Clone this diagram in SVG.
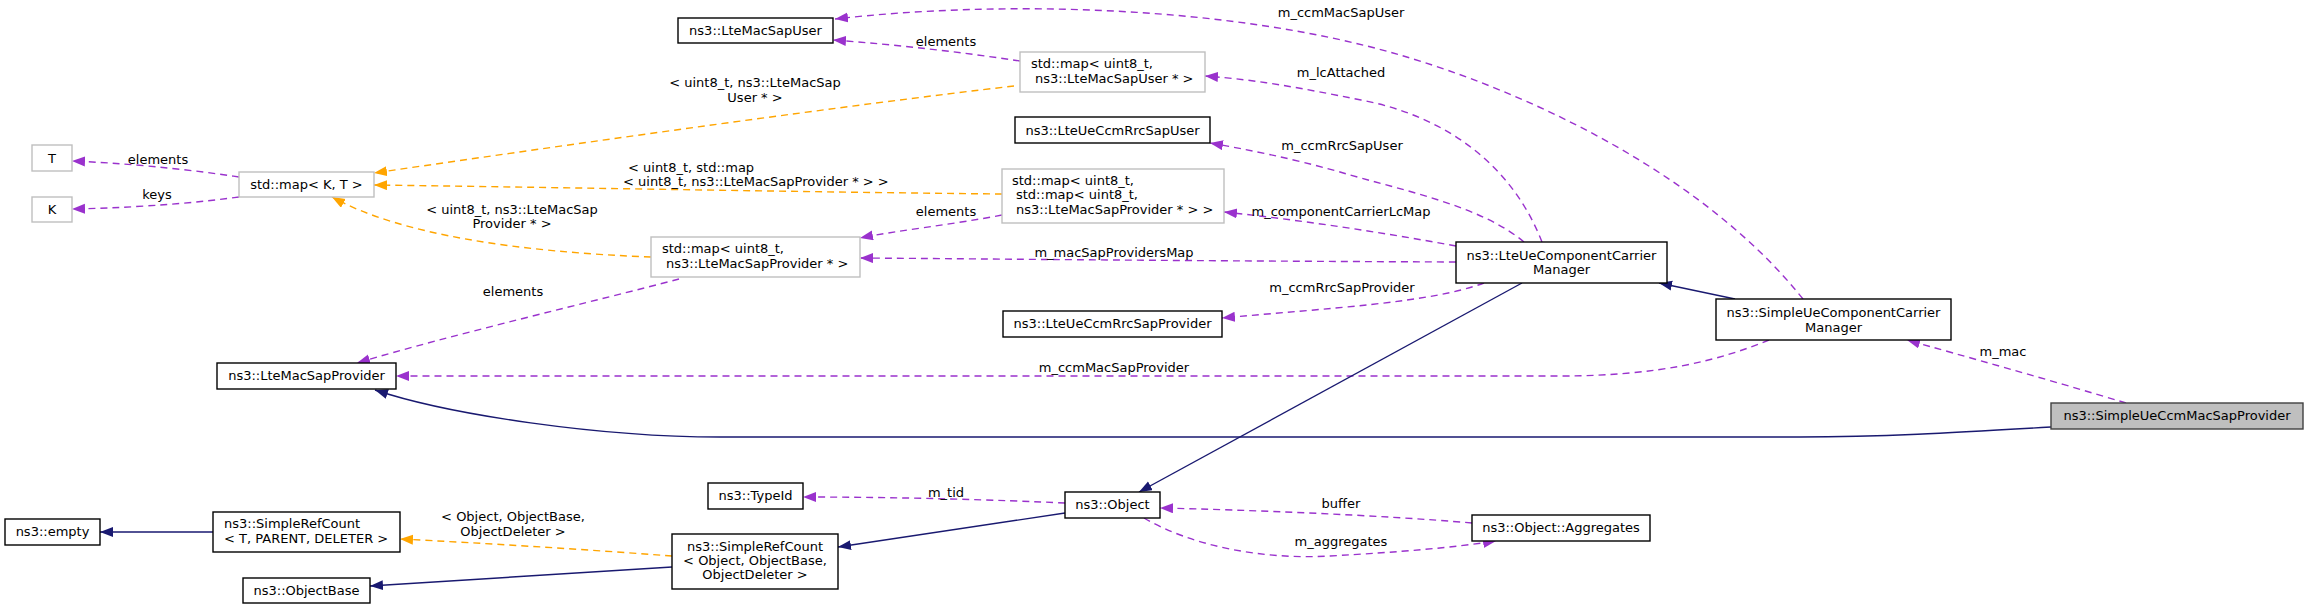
<svg xmlns="http://www.w3.org/2000/svg" width="2308" height="609" viewBox="0 0 2308 609">
<style>
text{font-family:"DejaVu Sans","Liberation Sans",sans-serif;font-size:13px;fill:#000}
.m{text-anchor:middle}
.n rect{fill:#fff;stroke:#000;stroke-width:1.4}
.u rect{fill:#fff;stroke:#bfbfbf;stroke-width:1.4}
.r rect{fill:#bfbfbf;stroke:#404040;stroke-width:1.4}
.p{fill:none;stroke:#9a32cd;stroke-width:1.4;stroke-dasharray:7,5;marker-end:url(#ap)}
.o{fill:none;stroke:#ffa500;stroke-width:1.4;stroke-dasharray:7,5;marker-end:url(#ao)}
.b{fill:none;stroke:#191970;stroke-width:1.4;marker-end:url(#ab)}
</style>
<defs>
<marker id="ap" markerUnits="userSpaceOnUse" markerWidth="14" markerHeight="11" refX="13" refY="5" orient="auto"><path d="M0,0 L13,5 L0,10 z" fill="#9a32cd"/></marker>
<marker id="ao" markerUnits="userSpaceOnUse" markerWidth="14" markerHeight="11" refX="13" refY="5" orient="auto"><path d="M0,0 L13,5 L0,10 z" fill="#ffa500"/></marker>
<marker id="ab" markerUnits="userSpaceOnUse" markerWidth="14" markerHeight="11" refX="13" refY="5" orient="auto"><path d="M0,0 L13,5 L0,10 z" fill="#191970"/></marker>
</defs>
<rect width="2308" height="609" fill="#fff"/>
<g id="edges">
<path class="p" d="M1020,61 C960,52 900,45 833,40"/>
<text class="m" x="946" y="46">elements</text>
<path class="p" d="M1803,299 C1700,170 1520,90 1400,55 C1230,5 1000,0 835,19"/>
<text class="m" x="1341" y="17">m_ccmMacSapUser</text>
<path class="p" d="M1542,242 C1510,160 1440,115 1361,100 C1300,88 1260,80 1205,76"/>
<text class="m" x="1341" y="77">m_lcAttached</text>
<path class="o" d="M1014,86 C850,105 600,140 374,173"/>
<text class="m" x="755" y="87">&lt; uint8_t, ns3::LteMacSap</text>
<text class="m" x="755" y="102">User * &gt;</text>
<path class="p" d="M1524,242 C1480,205 1400,190 1340,172 C1290,158 1250,150 1210,143"/>
<text class="m" x="1342" y="150">m_ccmRrcSapUser</text>
<path class="o" d="M1002,194 C800,192 600,188 374,185"/>
<text x="628" y="172">&lt; uint8_t, std::map</text>
<text x="623" y="186">&lt; uint8_t, ns3::LteMacSapProvider * &gt; &gt;</text>
<path class="p" d="M1456,246 C1380,232 1300,220 1224,212"/>
<text class="m" x="1341" y="216">m_componentCarrierLcMap</text>
<path class="p" d="M1002,215 C950,225 900,230 860,238"/>
<text class="m" x="946" y="216">elements</text>
<path class="p" d="M1456,262 C1200,261 1000,259 860,258"/>
<text class="m" x="1114" y="257">m_macSapProvidersMap</text>
<path class="p" d="M1484,283 C1430,303 1330,308 1222,318"/>
<text class="m" x="1342" y="292">m_ccmRrcSapProvider</text>
<path class="o" d="M651,257 C520,252 400,235 332,197"/>
<text class="m" x="512" y="214">&lt; uint8_t, ns3::LteMacSap</text>
<text class="m" x="512" y="228">Provider * &gt;</text>
<path class="p" d="M239,177 C180,168 120,163 72,161"/>
<text class="m" x="158" y="164">elements</text>
<path class="p" d="M239,197 C180,205 120,208 72,209"/>
<text class="m" x="157" y="199">keys</text>
<path class="p" d="M679,279 C600,300 450,335 357,363"/>
<text class="m" x="513" y="296">elements</text>
<path class="p" d="M1769,340 C1720,360 1660,376 1560,376 L396,376"/>
<text class="m" x="1114" y="372">m_ccmMacSapProvider</text>
<path class="p" d="M2126,403 C2050,380 1960,355 1907,340"/>
<text class="m" x="2003" y="356">m_mac</text>
<path class="b" d="M2051,427 C1950,433 1880,437 1800,437 L720,437 C600,437 450,415 375,390"/>
<path class="b" d="M1735,299 L1659,283"/>
<path class="b" d="M1522,283 L1139,492"/>
<path class="p" d="M1065,503 C1000,500 900,497 803,497"/>
<text class="m" x="946" y="497">m_tid</text>
<path class="p" d="M1472,523 C1380,515 1250,510 1160,508"/>
<text class="m" x="1341" y="508">buffer</text>
<path class="p" d="M1144,518 C1190,545 1260,560 1330,556 C1400,552 1450,548 1496,541"/>
<text class="m" x="1341" y="546">m_aggregates</text>
<path class="o" d="M672,556 C580,549 480,543 400,539"/>
<text class="m" x="513" y="521">&lt; Object, ObjectBase,</text>
<text class="m" x="513" y="536">ObjectDeleter &gt;</text>
<path class="b" d="M213,532 L100,532"/>
<path class="b" d="M672,567 L370,586"/>
<path class="b" d="M1065,513 L838,547"/>
</g>
<g id="n_LteMacSapUser" class="n"><rect x="678" y="18" width="155" height="25"/><text class="m" x="755.5" y="35">ns3::LteMacSapUser</text></g>
<g id="n_mapUser" class="u"><rect x="1020" y="52" width="185" height="40"/><text x="1031" y="68">std::map&lt; uint8_t,</text><text x="1035" y="83">ns3::LteMacSapUser * &gt;</text></g>
<g id="n_T" class="u"><rect x="32" y="145" width="40" height="26"/><text class="m" x="52" y="163">T</text></g>
<g id="n_K" class="u"><rect x="32" y="197" width="40" height="25"/><text class="m" x="52" y="214">K</text></g>
<g id="n_mapKT" class="u"><rect x="239" y="172" width="135" height="25"/><text class="m" x="306.5" y="189">std::map&lt; K, T &gt;</text></g>
<g id="n_LteUeCcmRrcSapUser" class="n"><rect x="1015" y="117" width="195" height="26"/><text class="m" x="1112.5" y="135">ns3::LteUeCcmRrcSapUser</text></g>
<g id="n_mapNested" class="u"><rect x="1002" y="169" width="222" height="54"/><text x="1012" y="185">std::map&lt; uint8_t,</text><text x="1016" y="199">std::map&lt; uint8_t,</text><text x="1016" y="214">ns3::LteMacSapProvider * &gt; &gt;</text></g>
<g id="n_mapProvider" class="u"><rect x="651" y="237" width="209" height="40"/><text x="662" y="253">std::map&lt; uint8_t,</text><text x="666" y="268">ns3::LteMacSapProvider * &gt;</text></g>
<g id="n_LteUeCCM" class="n"><rect x="1456" y="242" width="211" height="41"/><text class="m" x="1561.5" y="260">ns3::LteUeComponentCarrier</text><text class="m" x="1561.5" y="274">Manager</text></g>
<g id="n_SimpleUeCCM" class="n"><rect x="1716" y="299" width="235" height="41"/><text class="m" x="1833.5" y="317">ns3::SimpleUeComponentCarrier</text><text class="m" x="1833.5" y="332">Manager</text></g>
<g id="n_LteUeCcmRrcSapProvider" class="n"><rect x="1003" y="311" width="219" height="26"/><text class="m" x="1112.5" y="328">ns3::LteUeCcmRrcSapProvider</text></g>
<g id="n_LteMacSapProvider" class="n"><rect x="217" y="363" width="179" height="26"/><text class="m" x="306.5" y="380">ns3::LteMacSapProvider</text></g>
<g id="n_SimpleUeCcmMacSapProvider" class="r"><rect x="2051" y="403" width="252" height="26"/><text class="m" x="2177" y="420">ns3::SimpleUeCcmMacSapProvider</text></g>
<g id="n_TypeId" class="n"><rect x="708" y="483" width="95" height="26"/><text class="m" x="755.5" y="500">ns3::TypeId</text></g>
<g id="n_Object" class="n"><rect x="1065" y="492" width="95" height="26"/><text class="m" x="1112.5" y="509">ns3::Object</text></g>
<g id="n_Aggregates" class="n"><rect x="1472" y="515" width="178" height="26"/><text class="m" x="1561" y="532">ns3::Object::Aggregates</text></g>
<g id="n_empty" class="n"><rect x="5" y="519" width="95" height="26"/><text class="m" x="52.5" y="536">ns3::empty</text></g>
<g id="n_SimpleRefCountT" class="n"><rect x="213" y="512" width="187" height="40"/><text x="224" y="528">ns3::SimpleRefCount</text><text x="224" y="543">&lt; T, PARENT, DELETER &gt;</text></g>
<g id="n_ObjectBase" class="n"><rect x="243" y="578" width="127" height="25"/><text class="m" x="306.5" y="595">ns3::ObjectBase</text></g>
<g id="n_SimpleRefCountObj" class="n"><rect x="672" y="534" width="166" height="55"/><text class="m" x="755" y="551">ns3::SimpleRefCount</text><text class="m" x="755" y="565">&lt; Object, ObjectBase,</text><text class="m" x="755" y="579">ObjectDeleter &gt;</text></g>
</svg>
